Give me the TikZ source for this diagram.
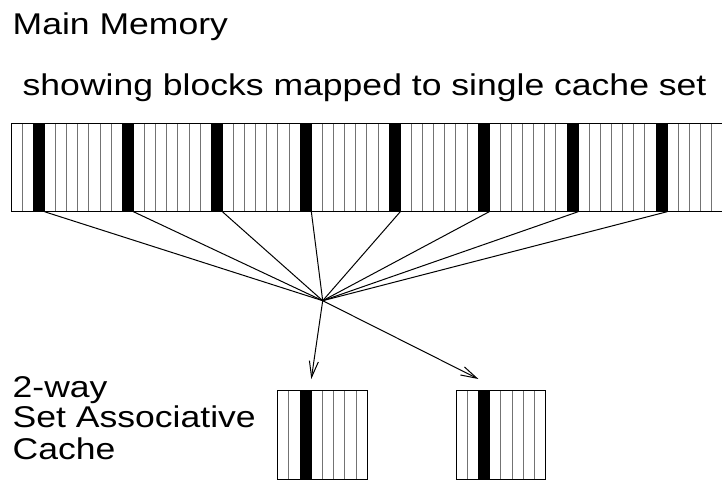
\documentclass[tikz,border=0pt]{standalone}
\usepackage{graphicx}
\usepackage{fontspec}
\setmainfont{Liberation Sans}
\usetikzlibrary{arrows.meta,calc}

\definecolor{divider}{RGB}{115,115,115}

% wide sans labels
\newcommand\widelabel[1]{\scalebox{1.185}[1]{\fontsize{30}{30}\selectfont #1}}

\tikzset{
  label text/.style={anchor=base west, inner sep=0pt, outer sep=0pt},
  divider line/.style={draw=divider, line width=1pt},
  frame line/.style={draw=black, line width=1pt},
  mapped col/.style={fill=black, draw=black, line width=0.6pt, inner sep=0pt, outer sep=0pt,
                     minimum width=11.12pt, minimum height=88.4pt, anchor=north west},
  way box/.style={draw=black, line width=1pt, inner sep=0pt, outer sep=0pt,
                  minimum width=89.6pt, minimum height=89pt, anchor=north west},
  way col/.style={fill=black, draw=black, line width=0.6pt, inner sep=0pt, outer sep=0pt,
                  minimum width=11.2pt, minimum height=89pt, anchor=north west},
  map line/.style={draw=black, line width=1pt},
  map arrow/.style={draw=black, line width=1pt, -{Straight Barb[length=16pt,width=9pt,line width=1pt]}},
}

\begin{document}
\begin{tikzpicture}[x=1pt,y=-1pt]
  \useasboundingbox (0,0) rectangle (722,494);

  % headings
  \node[label text] (title) at (12.7,34.3) {\widelabel{Main Memory}};
  \node[label text] (subtitle) at (22.7,96) {\widelabel{showing blocks mapped to single cache set}};

  % main memory strip: 64 blocks
  \def\colw{11.12}
  \def\stripx{11.1}
  \def\stripy{123.3}
  \def\striph{88.4}
  \foreach \i in {1,...,63}{
    \draw[divider line] ({\stripx+\i*\colw},\stripy) -- ++(0,\striph);
  }
  \foreach \k in {0,...,7}{
    \node[mapped col] (mem\k) at ({\stripx+(2+8*\k)*\colw},\stripy) {};
  }
  \draw[frame line] (\stripx,\stripy) rectangle ({\stripx+64*\colw},{\stripy+\striph});

  % convergence point of the mapping lines
  \coordinate (hub) at (322.7,300.7);
  \foreach \k in {0,...,7}{
    \draw[map line] (mem\k.south east) -- (hub);
  }

  % the two cache ways
  \node[way box] (way1) at (277.7,390) {};
  \node[way box] (way2) at (456,390) {};
  \foreach \w in {1,2}{
    \foreach \i in {1,...,7}{
      \draw[divider line] ($(way\w.north west)+(\i*11.2,0)$) -- ($(way\w.south west)+(\i*11.2,0)$);
    }
  }
  \node[way col] (set1) at ($(way1.north west)+(22.4,0)$) {};
  \node[way col] (set2) at ($(way2.north west)+(22.4,0)$) {};
  \draw[frame line] (way1.north west) rectangle (way1.south east);
  \draw[frame line] (way2.north west) rectangle (way2.south east);

  \coordinate (in1) at ($(set1.north east)+(0,-11)$);
  \coordinate (in2) at ($(set2.north west)+(0,-11)$);
  \draw[map arrow] (hub) -- (in1);
  \draw[map arrow] (hub) -- (in2);

  % cache caption
  \node[label text] (cap1) at (12.7,397) {\widelabel{2-way}};
  \node[label text] (cap2) at (12.7,427) {\widelabel{Set Associative}};
  \node[label text] (cap3) at (12.7,459.3) {\widelabel{Cache}};
\end{tikzpicture}
\end{document}
